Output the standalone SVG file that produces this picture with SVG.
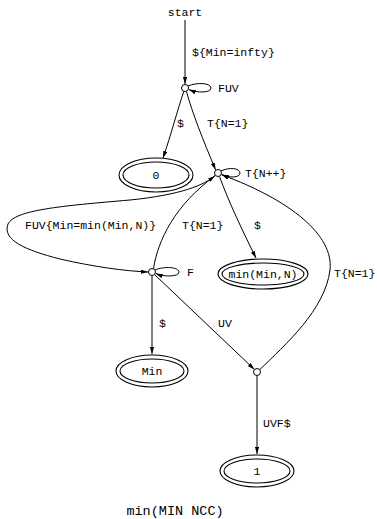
<svg xmlns="http://www.w3.org/2000/svg" width="377" height="519" viewBox="0 0 377 519">
  <style>
    .lbl { font-family: "Liberation Mono", "DejaVu Sans Mono", monospace; font-size: 11.5px; fill: #000; }
    .cap { font-family: "Liberation Mono", "DejaVu Sans Mono", monospace; font-size: 13.5px; fill: #000; }
    .edge { fill: none; stroke: #000; stroke-width: 1; }
    .state { fill: none; stroke: #000; stroke-width: 1.1; }
    .pt { fill: #fff; stroke: #000; stroke-width: 1; }
  </style>
  <defs>
    <marker id="arrow" viewBox="0 0 10 6" refX="10" refY="3" markerWidth="7" markerHeight="4.2" markerUnits="userSpaceOnUse" orient="auto">
      <path d="M0,0 L10,3 L0,6 Z" fill="#000"/>
    </marker>
  </defs>
  <rect width="377" height="519" fill="#fff"/>

  <!-- connectors -->
  <g id="edges">
    <path class="edge" d="M185,20 L185,84" marker-end="url(#arrow)"/>
    <text class="lbl" x="192" y="56">${Min=infty}</text>

    <path class="edge" d="M188,86 C197,82 211,83 211,88 C211,93 197,93 188.8,89.6" marker-end="url(#arrow)"/>
    <text class="lbl" x="218" y="92">FUV</text>

    <path class="edge" d="M183.8,91.5 C178,108 171,135 163,158" marker-end="url(#arrow)"/>
    <text class="lbl" x="177" y="127">$</text>

    <path class="edge" d="M186.5,91.6 C192,112 203,140 215.6,169.8" marker-end="url(#arrow)"/>
    <text class="lbl" x="207" y="127">T{N=1}</text>

    <path class="edge" d="M221,171 C229,167 240,168 240,173 C240,178 229,178 221.8,174.6" marker-end="url(#arrow)"/>
    <text class="lbl" x="245" y="177">T{N++}</text>

    <path class="edge" d="M215,175.5 C205,185 180,195 130,200 C60,206 15,210 8,224 C2,240 25,250 60,259 C95,267 125,271 148,272" marker-end="url(#arrow)"/>
    <text class="lbl" x="25" y="229">FUV{Min=min(Min,N)}</text>

    <path class="edge" d="M153.5,268.6 C158,240 175,205 214.8,176" marker-end="url(#arrow)"/>
    <text class="lbl" x="182" y="229">T{N=1}</text>

    <path class="edge" d="M219.5,176.6 C228,200 243,232 256,258" marker-end="url(#arrow)"/>
    <text class="lbl" x="254" y="229">$</text>

    <path class="edge" d="M155,270 C164,266 179,267 179,272 C179,277 164,277 155.8,273.6" marker-end="url(#arrow)"/>
    <text class="lbl" x="187" y="276">F</text>

    <path class="edge" d="M152,275.5 L152,354" marker-end="url(#arrow)"/>
    <text class="lbl" x="159" y="327">$</text>

    <path class="edge" d="M154.6,274.6 L254.4,369.4" marker-end="url(#arrow)"/>
    <text class="lbl" x="218" y="327">UV</text>

    <path class="edge" d="M259.8,369.6 C285,345 325,310 330,270 C334,235 290,200 221.8,174.8" marker-end="url(#arrow)"/>
    <text class="lbl" x="334" y="277">T{N=1}</text>

    <path class="edge" d="M257,375.5 L257,454" marker-end="url(#arrow)"/>
    <text class="lbl" x="263" y="427">UVF$</text>
  </g>

  <!-- states -->
  <g id="start">
    <text class="lbl" x="185" y="16" text-anchor="middle">start</text>
  </g>
  <g id="q0">
    <circle class="pt" cx="185" cy="88" r="3.5"/>
  </g>
  <g id="s0">
    <ellipse class="state" cx="156" cy="175" rx="37" ry="17"/>
    <ellipse class="state" cx="156" cy="175" rx="33" ry="13"/>
    <text class="lbl" x="156" y="179" text-anchor="middle">0</text>
  </g>
  <g id="q1">
    <circle class="pt" cx="218" cy="173" r="3.5"/>
  </g>
  <g id="q2">
    <circle class="pt" cx="152" cy="272" r="3.5"/>
  </g>
  <g id="s1">
    <ellipse class="state" cx="263" cy="274" rx="45" ry="15"/>
    <ellipse class="state" cx="263" cy="274" rx="41" ry="11"/>
    <text class="lbl" x="263" y="278" text-anchor="middle">min(Min,N)</text>
  </g>
  <g id="s2">
    <ellipse class="state" cx="152" cy="371" rx="36" ry="16"/>
    <ellipse class="state" cx="152" cy="371" rx="32" ry="12"/>
    <text class="lbl" x="152" y="375" text-anchor="middle">Min</text>
  </g>
  <g id="q3">
    <circle class="pt" cx="257" cy="372" r="3.5"/>
  </g>
  <g id="s3">
    <ellipse class="state" cx="257" cy="471" rx="37" ry="16"/>
    <ellipse class="state" cx="257" cy="471" rx="33" ry="12"/>
    <text class="lbl" x="257" y="475" text-anchor="middle">1</text>
  </g>

  <text class="cap" x="175" y="515" text-anchor="middle">min(MIN NCC)</text>
</svg>
